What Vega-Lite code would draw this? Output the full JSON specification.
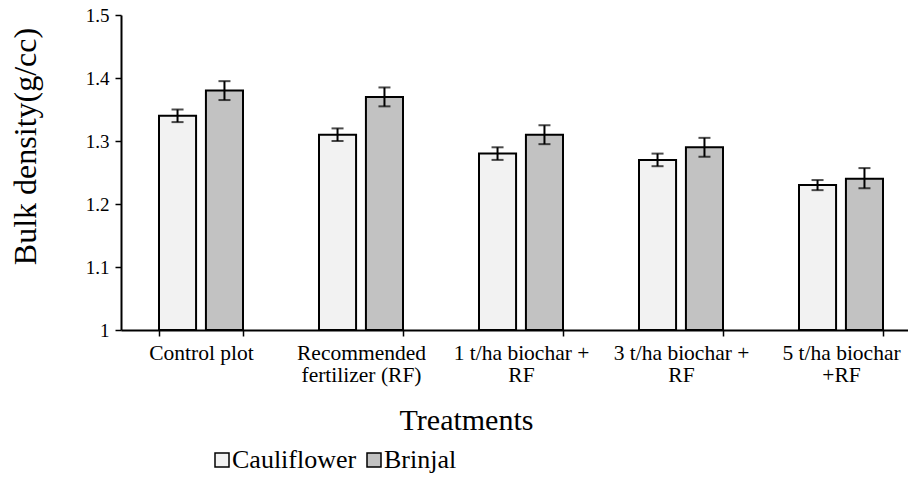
{
  "$schema": "https://vega.github.io/schema/vega-lite/v6.json",
  "width": 787,
  "height": 315,
  "autosize": "none",
  "padding": {"left": 121, "top": 15, "right": 0, "bottom": 158},
  "background": "white",
  "config": {
    "font": "Liberation Serif",
    "view": {"stroke": null},
    "axis": {"labelFont": "Liberation Serif", "titleFont": "Liberation Serif", "domainColor": "black", "tickColor": "black", "domainWidth": 1.5, "tickWidth": 1.5, "labelColor": "black", "titleColor": "black", "grid": false, "titleFontWeight": "normal"},
    "legend": {"labelFont": "Liberation Serif"}
  },
  "data": {
    "values": [
      {"treatment": "Control plot", "crop": "Cauliflower", "value": 1.34, "low": 1.33, "high": 1.35},
      {"treatment": "Control plot", "crop": "Brinjal", "value": 1.38, "low": 1.365, "high": 1.395},
      {"treatment": "Recommended|fertilizer (RF)", "crop": "Cauliflower", "value": 1.31, "low": 1.30, "high": 1.32},
      {"treatment": "Recommended|fertilizer (RF)", "crop": "Brinjal", "value": 1.37, "low": 1.355, "high": 1.385},
      {"treatment": "1 t/ha biochar +|RF", "crop": "Cauliflower", "value": 1.28, "low": 1.27, "high": 1.29},
      {"treatment": "1 t/ha biochar +|RF", "crop": "Brinjal", "value": 1.31, "low": 1.295, "high": 1.325},
      {"treatment": "3 t/ha biochar +|RF", "crop": "Cauliflower", "value": 1.27, "low": 1.26, "high": 1.28},
      {"treatment": "3 t/ha biochar +|RF", "crop": "Brinjal", "value": 1.29, "low": 1.275, "high": 1.305},
      {"treatment": "5 t/ha biochar|+RF", "crop": "Cauliflower", "value": 1.23, "low": 1.222, "high": 1.238},
      {"treatment": "5 t/ha biochar|+RF", "crop": "Brinjal", "value": 1.24, "low": 1.225, "high": 1.257}
    ]
  },
  "encoding": {
    "x": {
      "field": "treatment", "type": "nominal", "sort": null,
      "scale": {"range": [0, 800], "paddingInner": 0.475, "paddingOuter": 0.2375},
      "axis": {
        "title": "Treatments", "titleFontSize": 30, "titleX": 345, "titleY": 90, "titleBaseline": "middle", "titleAlign": "center",
        "labelAngle": 0, "labelFontSize": 21.5, "labelPadding": 6, "labelLineHeight": 22, "labelBaseline": "top",
        "labelExpr": "split(datum.label, '|')", "tickBand": "extent", "tickSize": 6, "domainWidth": 2
      }
    },
    "xOffset": {"field": "crop", "type": "nominal", "sort": ["Cauliflower", "Brinjal"], "scale": {"paddingInner": 0.21, "paddingOuter": 0}}
  },
  "layer": [
    {
      "mark": {"type": "bar", "stroke": "black", "strokeWidth": 2},
      "encoding": {
        "y": {
          "field": "value", "type": "quantitative",
          "scale": {"domain": [1, 1.5], "nice": false, "zero": false},
          "axis": {
            "title": "Bulk density(g/cc)", "titleFontSize": 32, "titleX": -96, "titleY": 131, "titleBaseline": "middle", "titleAngle": -90,
            "values": [1, 1.1, 1.2, 1.3, 1.4, 1.5], "labelExpr": "format(datum.value, '.1~f')",
            "labelFontSize": 19, "tickSize": 6, "labelPadding": 6, "domainWidth": 2
          }
        },
        "y2": {"datum": 1},
        "fill": {
          "field": "crop", "type": "nominal", "sort": ["Cauliflower", "Brinjal"],
          "scale": {"domain": ["Cauliflower", "Brinjal"], "range": ["#f2f2f2", "#c2c2c2"]},
          "legend": {
            "title": null, "orient": "none", "legendX": 88, "legendY": 432, "direction": "horizontal",
            "labelFontSize": 26, "symbolType": "square", "symbolSize": 196, "symbolStrokeColor": "black", "symbolStrokeWidth": 1.5,
            "labelOffset": -3, "columnPadding": 4, "labelColor": "black"
          }
        }
      }
    },
    {
      "mark": {"type": "rule", "color": "black", "strokeWidth": 2},
      "encoding": {
        "y": {"field": "low", "type": "quantitative"},
        "y2": {"field": "high"}
      }
    },
    {
      "mark": {"type": "tick", "color": "black", "thickness": 2, "size": 12},
      "encoding": {"y": {"field": "low", "type": "quantitative"}}
    },
    {
      "mark": {"type": "tick", "color": "black", "thickness": 2, "size": 12},
      "encoding": {"y": {"field": "high", "type": "quantitative"}}
    }
  ]
}
